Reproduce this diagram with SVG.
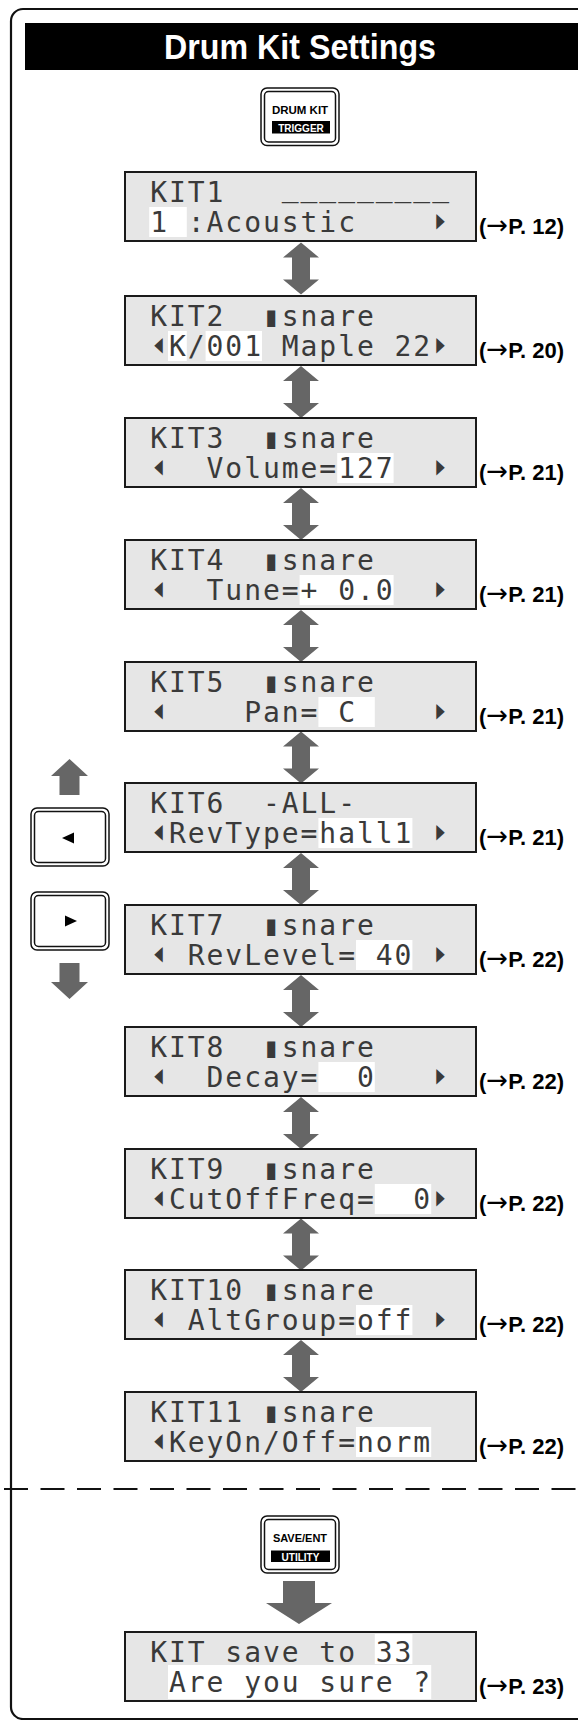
<svg xmlns="http://www.w3.org/2000/svg" width="578" height="1720" viewBox="0 0 578 1720">
<style>
.frame{fill:none;stroke:#111;stroke-width:2.2}
.lcd{fill:#e6e6e6;stroke:#1a1a1a;stroke-width:2}
.hl{fill:#fff}
.lt{font-family:"DejaVu Sans Mono",monospace;font-size:28px;fill:#3a3a3a;text-anchor:middle;white-space:pre}
.tri{font-family:"DejaVu Sans",sans-serif;font-size:17px;fill:#3a3a3a;text-anchor:middle}
.pg{font-family:"Liberation Sans",Arial,sans-serif;font-weight:bold;font-size:22px;fill:#000}
.pa{font-family:"DejaVu Sans",sans-serif;font-weight:normal;font-size:26px}
.arrow{fill:#666}
.bo{fill:#fff;stroke:#111;stroke-width:1.5}
.bi{fill:none;stroke:#111;stroke-width:1.5}
.bt{font-family:"Liberation Sans",Arial,sans-serif;font-weight:bold;text-anchor:middle}
</style>
<defs>
<path id="dbl" d="M0,0 L18,15 L9,15 L9,37 L18,37 L0,52 L-18,37 L-9,37 L-9,15 L-18,15 Z"/>
</defs>
<rect width="578" height="1720" fill="#fff"/>
<path class="frame" d="M580,9 H23 A12,12 0 0 0 11,21 V1707 A12,12 0 0 0 23,1719 H580"/>
<g id="title">
<rect x="25" y="23" width="553" height="47" fill="#000"/>
<text x="300" y="59" font-family="Liberation Sans,Arial,sans-serif" font-weight="bold" font-size="35" fill="#fff" text-anchor="middle" textLength="272" lengthAdjust="spacingAndGlyphs">Drum Kit Settings</text>
</g>
<line x1="4" y1="1489" x2="578" y2="1489" stroke="#111" stroke-width="2.2" stroke-dasharray="24 12.5"/>
<g id="btn-drumkit">
<rect class="bo" x="261" y="88" width="78" height="57.5" rx="6"/>
<rect class="bi" x="264.5" y="91.5" width="71" height="50.5" rx="4"/>
<text class="bt" x="300" y="114" font-size="11.5">DRUM KIT</text>
<rect x="272" y="121" width="58" height="12.5" fill="#000"/>
<text class="bt" x="301" y="131.5" font-size="10" fill="#fff">TRIGGER</text>
</g>
<g id="btn-left">
<rect class="bo" x="31" y="808" width="78" height="58" rx="6"/>
<rect class="bi" x="34.5" y="811.5" width="71" height="51" rx="4"/>
<polygon points="62,838 74,832.5 74,843.5" fill="#000"/>
</g>
<g id="btn-right">
<rect class="bo" x="31" y="892" width="78" height="58" rx="6"/>
<rect class="bi" x="34.5" y="895.5" width="71" height="51" rx="4"/>
<polygon points="77,921 65,915.5 65,926.5" fill="#000"/>
</g>
<g id="btn-save">
<rect class="bo" x="261" y="1516" width="78" height="57" rx="6"/>
<rect class="bi" x="264.5" y="1519.5" width="71" height="50" rx="4"/>
<text class="bt" x="300" y="1542" font-size="11">SAVE/ENT</text>
<rect x="271" y="1550.5" width="59" height="11.5" fill="#000"/>
<text class="bt" x="300.5" y="1560.5" font-size="10" fill="#fff">UTILITY</text>
</g>
<g id="connectors" class="arrow">
<use href="#dbl" x="301" y="242.5"/>
<use href="#dbl" x="301" y="366"/>
<use href="#dbl" x="301" y="488"/>
<use href="#dbl" x="301" y="610"/>
<use href="#dbl" x="301" y="731.5"/>
<use href="#dbl" x="301" y="853"/>
<use href="#dbl" x="301" y="975"/>
<use href="#dbl" x="301" y="1097"/>
<use href="#dbl" x="301" y="1218.5"/>
<use href="#dbl" x="301" y="1340"/>
<polygon points="69.5,759 88,776 79.5,776 79.5,795 59.5,795 59.5,776 51,776"/>
<polygon points="69.5,999 88,982 79.5,982 79.5,963 59.5,963 59.5,982 51,982"/>
<polygon points="283,1581 315,1581 315,1603 332,1603 299,1624 266,1603 283,1603"/>
</g>
<g id="lcd1">
<rect class="lcd" x="125" y="172" width="351" height="69"/>
<rect class="hl" x="149.2" y="207" width="37.6" height="30"/>
<text class="lt" x="158.6 177.4 196.2 215" y="201.5">KIT1</text>
<text class="lt" x="290.2 309 327.8 346.6 365.4 384.2 403 421.8 440.6" y="195.5">_________</text>
<text class="lt" xml:space="preserve" x="158.6 177.4 196.2 215 233.8 252.6 271.4 290.2 309 327.8 346.6" y="232">1 :Acoustic</text>
<text class="tri" transform="translate(440.6,226.5) scale(0.65,1.2)">▶</text>
<text class="pg" x="479" y="234">(<tspan class="pa">→</tspan>P. 12)</text>
</g>
<g id="lcd2">
<rect class="lcd" x="125" y="296" width="351" height="69"/>
<rect class="hl" x="168" y="331" width="18.8" height="30"/>
<rect class="hl" x="205.6" y="331" width="56.4" height="30"/>
<text class="lt" xml:space="preserve" x="158.6 177.4 196.2 215 233.8 252.6 271.4 290.2 309 327.8 346.6 365.4" y="325.5">KIT2  ▮snare</text>
<text class="tri" transform="translate(158.6,350.5) scale(0.65,1.2)">◀</text>
<text class="lt" xml:space="preserve" x="177.4 196.2 215 233.8 252.6 271.4 290.2 309 327.8 346.6 365.4 384.2 403 421.8" y="356">K/001 Maple 22</text>
<text class="tri" transform="translate(440.6,350.5) scale(0.65,1.2)">▶</text>
<text class="pg" x="479" y="358">(<tspan class="pa">→</tspan>P. 20)</text>
</g>
<g id="lcd3">
<rect class="lcd" x="125" y="418" width="351" height="69"/>
<rect class="hl" x="337.2" y="453" width="56.4" height="30"/>
<text class="lt" xml:space="preserve" x="158.6 177.4 196.2 215 233.8 252.6 271.4 290.2 309 327.8 346.6 365.4" y="447.5">KIT3  ▮snare</text>
<text class="tri" transform="translate(158.6,472.5) scale(0.65,1.2)">◀</text>
<text class="lt" x="215 233.8 252.6 271.4 290.2 309 327.8 346.6 365.4 384.2" y="478">Volume=127</text>
<text class="tri" transform="translate(440.6,472.5) scale(0.65,1.2)">▶</text>
<text class="pg" x="479" y="480">(<tspan class="pa">→</tspan>P. 21)</text>
</g>
<g id="lcd4">
<rect class="lcd" x="125" y="540" width="351" height="69"/>
<rect class="hl" x="299.6" y="575" width="94" height="30"/>
<text class="lt" xml:space="preserve" x="158.6 177.4 196.2 215 233.8 252.6 271.4 290.2 309 327.8 346.6 365.4" y="569.5">KIT4  ▮snare</text>
<text class="tri" transform="translate(158.6,594.5) scale(0.65,1.2)">◀</text>
<text class="lt" xml:space="preserve" x="215 233.8 252.6 271.4 290.2 309 327.8 346.6 365.4 384.2" y="600">Tune=+ 0.0</text>
<text class="tri" transform="translate(440.6,594.5) scale(0.65,1.2)">▶</text>
<text class="pg" x="479" y="602">(<tspan class="pa">→</tspan>P. 21)</text>
</g>
<g id="lcd5">
<rect class="lcd" x="125" y="662" width="351" height="69"/>
<rect class="hl" x="318.4" y="697" width="56.4" height="30"/>
<text class="lt" xml:space="preserve" x="158.6 177.4 196.2 215 233.8 252.6 271.4 290.2 309 327.8 346.6 365.4" y="691.5">KIT5  ▮snare</text>
<text class="tri" transform="translate(158.6,716.5) scale(0.65,1.2)">◀</text>
<text class="lt" xml:space="preserve" x="252.6 271.4 290.2 309 327.8 346.6" y="722">Pan= C</text>
<text class="tri" transform="translate(440.6,716.5) scale(0.65,1.2)">▶</text>
<text class="pg" x="479" y="724">(<tspan class="pa">→</tspan>P. 21)</text>
</g>
<g id="lcd6">
<rect class="lcd" x="125" y="783" width="351" height="69"/>
<rect class="hl" x="318.4" y="818" width="94" height="30"/>
<text class="lt" xml:space="preserve" x="158.6 177.4 196.2 215 233.8 252.6 271.4 290.2 309 327.8 346.6" y="812.5">KIT6  -ALL-</text>
<text class="tri" transform="translate(158.6,837.5) scale(0.65,1.2)">◀</text>
<text class="lt" x="177.4 196.2 215 233.8 252.6 271.4 290.2 309 327.8 346.6 365.4 384.2 403" y="843">RevType=hall1</text>
<text class="tri" transform="translate(440.6,837.5) scale(0.65,1.2)">▶</text>
<text class="pg" x="479" y="845">(<tspan class="pa">→</tspan>P. 21)</text>
</g>
<g id="lcd7">
<rect class="lcd" x="125" y="905" width="351" height="69"/>
<rect class="hl" x="356" y="940" width="56.4" height="30"/>
<text class="lt" xml:space="preserve" x="158.6 177.4 196.2 215 233.8 252.6 271.4 290.2 309 327.8 346.6 365.4" y="934.5">KIT7  ▮snare</text>
<text class="tri" transform="translate(158.6,959.5) scale(0.65,1.2)">◀</text>
<text class="lt" xml:space="preserve" x="196.2 215 233.8 252.6 271.4 290.2 309 327.8 346.6 365.4 384.2 403" y="965">RevLevel= 40</text>
<text class="tri" transform="translate(440.6,959.5) scale(0.65,1.2)">▶</text>
<text class="pg" x="479" y="967">(<tspan class="pa">→</tspan>P. 22)</text>
</g>
<g id="lcd8">
<rect class="lcd" x="125" y="1027" width="351" height="69"/>
<rect class="hl" x="318.4" y="1062" width="56.4" height="30"/>
<text class="lt" xml:space="preserve" x="158.6 177.4 196.2 215 233.8 252.6 271.4 290.2 309 327.8 346.6 365.4" y="1056.5">KIT8  ▮snare</text>
<text class="tri" transform="translate(158.6,1081.5) scale(0.65,1.2)">◀</text>
<text class="lt" xml:space="preserve" x="215 233.8 252.6 271.4 290.2 309 327.8 346.6 365.4" y="1087">Decay=  0</text>
<text class="tri" transform="translate(440.6,1081.5) scale(0.65,1.2)">▶</text>
<text class="pg" x="479" y="1089">(<tspan class="pa">→</tspan>P. 22)</text>
</g>
<g id="lcd9">
<rect class="lcd" x="125" y="1149" width="351" height="69"/>
<rect class="hl" x="374.8" y="1184" width="56.4" height="30"/>
<text class="lt" xml:space="preserve" x="158.6 177.4 196.2 215 233.8 252.6 271.4 290.2 309 327.8 346.6 365.4" y="1178.5">KIT9  ▮snare</text>
<text class="tri" transform="translate(158.6,1203.5) scale(0.65,1.2)">◀</text>
<text class="lt" xml:space="preserve" x="177.4 196.2 215 233.8 252.6 271.4 290.2 309 327.8 346.6 365.4 384.2 403 421.8" y="1209">CutOffFreq=  0</text>
<text class="tri" transform="translate(440.6,1203.5) scale(0.65,1.2)">▶</text>
<text class="pg" x="479" y="1211">(<tspan class="pa">→</tspan>P. 22)</text>
</g>
<g id="lcd10">
<rect class="lcd" x="125" y="1270" width="351" height="69"/>
<rect class="hl" x="356" y="1305" width="56.4" height="30"/>
<text class="lt" xml:space="preserve" x="158.6 177.4 196.2 215 233.8 252.6 271.4 290.2 309 327.8 346.6 365.4" y="1299.5">KIT10 ▮snare</text>
<text class="tri" transform="translate(158.6,1324.5) scale(0.65,1.2)">◀</text>
<text class="lt" x="196.2 215 233.8 252.6 271.4 290.2 309 327.8 346.6 365.4 384.2 403" y="1330">AltGroup=off</text>
<text class="tri" transform="translate(440.6,1324.5) scale(0.65,1.2)">▶</text>
<text class="pg" x="479" y="1332">(<tspan class="pa">→</tspan>P. 22)</text>
</g>
<g id="lcd11">
<rect class="lcd" x="125" y="1392" width="351" height="69"/>
<rect class="hl" x="356" y="1427" width="75.2" height="30"/>
<text class="lt" xml:space="preserve" x="158.6 177.4 196.2 215 233.8 252.6 271.4 290.2 309 327.8 346.6 365.4" y="1421.5">KIT11 ▮snare</text>
<text class="tri" transform="translate(158.6,1446.5) scale(0.65,1.2)">◀</text>
<text class="lt" x="177.4 196.2 215 233.8 252.6 271.4 290.2 309 327.8 346.6 365.4 384.2 403 421.8" y="1452">KeyOn/Off=norm</text>
<text class="pg" x="479" y="1454">(<tspan class="pa">→</tspan>P. 22)</text>
</g>
<g id="lcd-save">
<rect class="lcd" x="125" y="1632" width="351" height="69"/>
<rect class="hl" x="374.8" y="1634" width="37.6" height="30"/>
<rect class="hl" x="168" y="1665" width="263.2" height="34"/>
<text class="lt" xml:space="preserve" x="158.6 177.4 196.2 215 233.8 252.6 271.4 290.2 309 327.8 346.6 365.4 384.2 403" y="1661.5">KIT save to 33</text>
<text class="lt" xml:space="preserve" x="177.4 196.2 215 233.8 252.6 271.4 290.2 309 327.8 346.6 365.4 384.2 403 421.8" y="1692">Are you sure ?</text>
<text class="pg" x="479" y="1694">(<tspan class="pa">→</tspan>P. 23)</text>
</g>
</svg>
